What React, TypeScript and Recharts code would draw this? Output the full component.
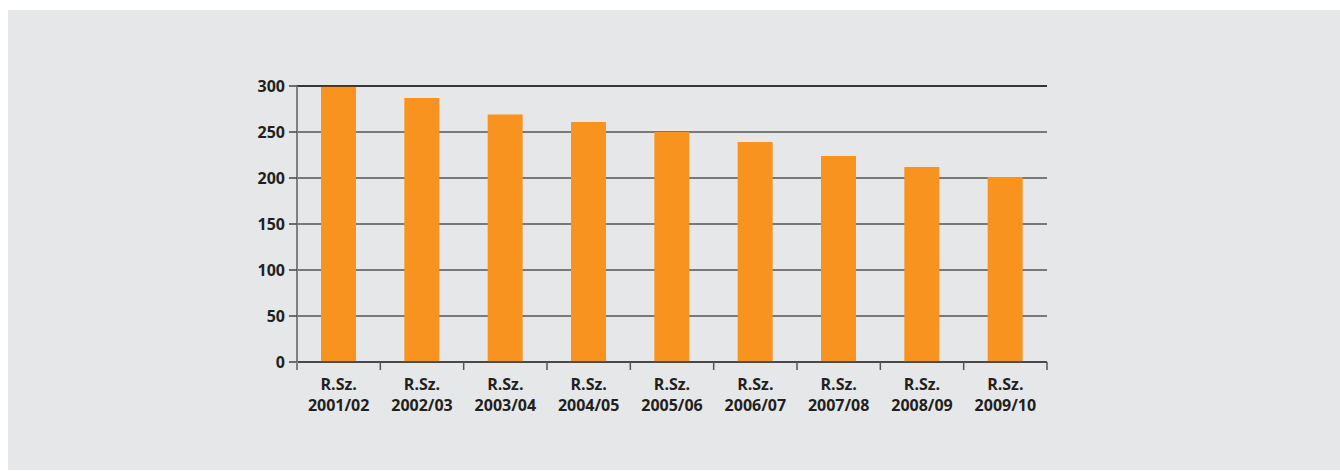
import { BarChart, Bar, XAxis, YAxis, CartesianGrid, ReferenceLine } from 'recharts';

const SEASONS = ['2001/02', '2002/03', '2003/04', '2004/05', '2005/06', '2006/07', '2007/08', '2008/09', '2009/10'];
const VALUES = [300, 287, 269, 261, 250, 239, 224, 212, 201];
const Y_TICKS = [0, 50, 100, 150, 200, 250, 300];

const data = SEASONS.map((s, i) => ({ name: s, value: VALUES[i] }));

const FONT = '"Open Sans", "Noto Sans", sans-serif';
const INK = '#231f20';

const W = 1340;
const H = 471;
const MARGIN = { top: 86, right: 293, left: 237, bottom: 49 };
const Y_W = 60;
const BAND = (W - MARGIN.left - MARGIN.right - Y_W) / SEASONS.length;

function SeasonTick({ x, y, payload, index }: any) {
  const last = index === SEASONS.length - 1;
  return (
    <g>
      <line x1={x - BAND / 2} x2={x - BAND / 2} y1={y} y2={y + 8}
        stroke={index === 0 ? '#808080' : '#555'} strokeWidth={index === 0 ? 2 : 1.5} />
      {last && <line x1={x + BAND / 2} x2={x + BAND / 2} y1={y} y2={y + 8} stroke="#555" strokeWidth={1.5} />}
      <text x={x} textAnchor="middle" fontFamily={FONT} fontSize={16} fontWeight={700} fill={INK}>
        <tspan x={x} y={y + 28}>R.Sz.</tspan>
        <tspan x={x} y={y + 49}>{payload.value}</tspan>
      </text>
    </g>
  );
}

export default function App() {
  return (
    <div style={{ position: 'fixed', top: 0, left: 0, width: W, height: H, background: '#fff' }}>
      <div style={{ position: 'absolute', left: 8, top: 10, width: 1332, height: 460, background: '#e6e7e9' }} />
      <div style={{ position: 'absolute', left: 0, top: 0 }}>
        <BarChart width={W} height={H} data={data} margin={MARGIN} barCategoryGap={0}>
          <CartesianGrid vertical={false} stroke="#555" strokeWidth={1.5} />
          <XAxis
            dataKey="name"
            height={60}
            tickSize={0}
            tickMargin={0}
            axisLine={{ stroke: '#3a3a3a', strokeWidth: 1.5 }}
            tickLine={false}
            tick={<SeasonTick />}
            interval={0}
          />
          <YAxis
            domain={[0, 300]}
            ticks={Y_TICKS}
            width={Y_W}
            tickSize={8}
            tickMargin={4}
            axisLine={{ stroke: '#808080', strokeWidth: 2 }}
            tickLine={{ stroke: '#444', strokeWidth: 1.5 }}
            tick={{ fontFamily: FONT, fontSize: 16, fontWeight: 700, fill: INK }}
          />
          <ReferenceLine y={300} stroke={INK} strokeWidth={1.5} />
          <Bar dataKey="value" fill="#f7931e" barSize={35} isAnimationActive={false} />
        </BarChart>
      </div>
    </div>
  );
}
